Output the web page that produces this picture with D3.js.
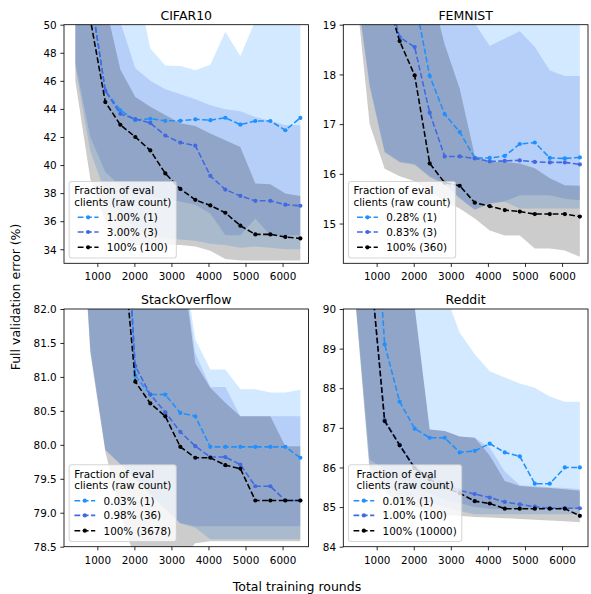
<!DOCTYPE html>
<html><head><meta charset="utf-8">
<script src="https://cdn.jsdelivr.net/npm/d3@7"></script>
<style>
body{margin:0;background:#fff}
svg text{font-family:"DejaVu Sans",sans-serif;fill:#000}
</style>
</head><body>
<svg id="c" width="591" height="594" xmlns="http://www.w3.org/2000/svg"></svg>
<script>
// ---------- shared ----------
const rounds = [405, 810, 1215, 1620, 2025, 2430, 2835, 3240, 3645, 4050, 4455, 4860, 5265, 5670, 6075, 6480];
const xTicks = [1000, 2000, 3000, 4000, 5000, 6000];
const legendTitle = ["Fraction of eval", "clients (raw count)"];

// ---------- CIFAR10 ----------
const cifarLabels = ["1.00% (1)", "3.00% (3)", "100% (100)"];
const cifarYTicks = [34, 36, 38, 40, 42, 44, 46, 48, 50];
const cifarMean1   = [58, 52.3, 45.3, 43.9, 43.2, 43.3, 43.15, 43.15, 43.26, 43.2, 43.37, 42.88, 43.14, 43.14, 42.48, 43.36];
const cifarMean3   = [58, 52.2, 45.3, 43.65, 43.28, 43.0, 42.1, 41.6, 41.38, 39.23, 38.25, 37.8, 37.45, 37.45, 37.18, 37.1];
const cifarMean100 = [57, 50.4, 44.49, 42.87, 42.0, 41.04, 39.4, 38.3, 37.52, 37.12, 36.6, 35.68, 35.06, 35.06, 34.88, 34.77];
const cifarHi1   = [60, 58, 56, 54, 53.4, 48.3, 47.1, 47.05, 46.75, 47.15, 49.5, 47.75, 50.3, 52, 52, 52];
const cifarLo1   = [47, 41, 38, 36.5, 35.5, 35.0, 34.8, 34.7, 34.6, 34.4, 34.3, 34.1, 34.2, 34.1, 34.0, 34.0];
const cifarHi3   = [58, 55, 52, 50.2, 46.9, 46.0, 45.4, 45.05, 44.68, 44.26, 43.97, 43.83, 43.43, 43.16, 42.83, 42.83];
const cifarLo3   = [47.3, 42, 39.5, 38.5, 38.0, 37.8, 37.6, 37.4, 37.18, 36.54, 35.0, 35.0, 36.2, 35.0, 35.0, 35.0];
const cifarHi100 = [58, 55, 51.5, 46.8, 44.85, 44.16, 43.56, 42.97, 42.79, 42.24, 41.76, 41.29, 38.68, 38.63, 37.97, 37.8];
const cifarLo100 = [46, 39, 36, 34.5, 34.3, 34.3, 34.3, 34.3, 34.2, 33.9, 33.3, 33.2, 33.2, 33.2, 33.2, 33.2];

// ---------- FEMNIST ----------
const femLabels = ["0.28% (1)", "0.83% (3)", "100% (360)"];
const femYTicks = [15, 16, 17, 18, 19];
const femMean1   = [21.5, 21, 20.5, 20, 19.53, 17.97, 17.2, 16.84, 16.32, 16.32, 16.36, 16.6, 16.63, 16.32, 16.31, 16.33];
const femMean3   = [21, 20.5, 19.89, 18.75, 18.55, 17.23, 16.35, 16.35, 16.31, 16.25, 16.26, 16.27, 16.24, 16.23, 16.23, 16.19];
const femMean100 = [22, 21, 19.68, 18.67, 17.98, 16.21, 15.82, 15.76, 15.42, 15.35, 15.27, 15.24, 15.19, 15.19, 15.19, 15.14];
const femHi1   = [20.5, 20.5, 20.5, 20.5, 20.5, 20.5, 20.5, 20.5, 20.5, 20.5, 20.5, 20.5, 20.5, 20.5, 20.5, 20.5];
const femLo1   = [20.0, 17.75, 16.43, 16.23, 16.18, 15.93, 15.78, 15.5, 15.27, 15.4, 15.44, 15.3, 15.3, 15.3, 15.3, 15.3];
const femHi3   = [20.5, 20.5, 20.5, 20.5, 20.5, 20.5, 20.5, 19.8, 19.03, 18.57, 18.72, 18.87, 18.55, 18.08, 17.97, 17.97];
const femLo3   = [20.0, 17.8, 16.45, 16.25, 16.2, 15.95, 15.8, 15.52, 15.28, 15.41, 15.45, 15.57, 15.57, 15.57, 15.5, 15.47];
const femHi100 = [20.5, 20.5, 20.5, 20.5, 20.5, 19.8, 18.6, 17.71, 16.37, 16.24, 16.24, 16.21, 16.11, 15.91, 15.77, 15.76];
const femLo100 = [19.97, 17.0, 16.1, 15.95, 15.85, 15.65, 15.45, 15.3, 15.1, 14.86, 14.76, 14.76, 14.5, 14.5, 14.46, 14.33];

// ---------- StackOverflow ----------
const soLabels = ["0.03% (1)", "0.98% (36)", "100% (3678)"];
const soYTicks = [78.5, 79.0, 79.5, 80.0, 80.5, 81.0, 81.5, 82.0];
const soMean1   = [90, 88, 87, 85.5, 81.02, 80.74, 80.74, 80.47, 80.42, 79.97, 79.97, 79.97, 79.97, 79.97, 79.97, 79.81];
const soMean3   = [89, 87, 86, 84.5, 81.16, 80.74, 80.48, 80.19, 79.98, 79.82, 79.82, 79.71, 79.39, 79.39, 79.18, 79.18];
const soMean100 = [88, 86, 85, 83.37, 80.93, 80.61, 80.42, 79.97, 79.81, 79.81, 79.7, 79.65, 79.18, 79.18, 79.18, 79.18];
const soHi1   = [86, 86, 86, 86, 86, 86, 86, 83.0, 81.55, 81.11, 81.11, 80.82, 80.82, 80.77, 80.77, 80.81];
const soLo1   = [85, 81.4, 79.92, 79.71, 79.49, 79.27, 79.05, 78.84, 78.78, 78.61, 78.61, 78.61, 78.61, 78.61, 78.61, 78.61];
const soHi3   = [86, 86, 86, 86, 86, 86, 86, 82.9, 81.35, 80.85, 80.85, 80.42, 80.42, 80.42, 80.42, 80.42];
const soLo3   = [85, 81.41, 79.93, 79.72, 79.5, 79.28, 79.06, 78.85, 78.8, 78.8, 78.8, 78.8, 78.8, 78.8, 78.8, 78.8];
const soHi100 = [86, 86, 86, 86, 86, 86, 86, 82.9, 81.2, 80.84, 80.62, 80.42, 80.42, 80.42, 79.98, 79.98];
const soLo100 = [85, 81.35, 79.9, 79.0, 78.3, 78.2, 78.2, 78.3, 78.55, 78.58, 78.58, 78.58, 78.58, 78.58, 78.58, 78.58];

// ---------- Reddit ----------
const redLabels = ["0.01% (1)", "1.00% (100)", "100% (10000)"];
const redYTicks = [84, 85, 86, 87, 88, 89, 90];
const redMean1   = [97, 95, 89.11, 87.66, 86.98, 86.75, 86.75, 86.38, 86.42, 86.6, 86.38, 86.28, 85.59, 85.59, 86.0, 86.0];
const redMean3   = [93, 91.3, 87.2, 86.58, 86.0, 85.77, 85.58, 85.42, 85.33, 85.24, 85.13, 85.07, 85.01, 84.97, 84.97, 84.97];
const redMean100 = [93, 91.3, 87.17, 86.56, 85.98, 85.7, 85.5, 85.35, 85.15, 85.09, 84.96, 84.96, 84.96, 84.96, 84.96, 84.78];
const redHi1   = [92, 92, 92, 92, 92, 92, 90.43, 89.4, 88.86, 88.43, 88.27, 88.12, 88.01, 87.79, 87.66, 87.66];
const redLo1   = [90.45, 86.0, 85.6, 85.3, 85.2, 85.1, 85.0, 84.9, 84.82, 84.82, 84.82, 84.82, 84.82, 84.82, 84.82, 84.82];
const redHi3   = [92, 92, 92, 92, 90.05, 86.96, 86.92, 86.78, 86.75, 86.5, 85.9, 85.55, 85.53, 85.5, 85.48, 85.45];
const redLo3   = [90.5, 86.2, 85.95, 85.7, 85.5, 85.35, 85.2, 85.1, 85.0, 84.96, 84.95, 84.95, 84.95, 84.95, 84.95, 84.95];
const redHi100 = [92, 92, 92, 92, 90.05, 86.96, 86.92, 86.78, 86.75, 86.3, 85.66, 85.53, 85.5, 85.48, 85.45, 85.41];
const redLo100 = [90.4, 85.9, 85.4, 85.1, 85.0, 84.9, 84.8, 84.78, 84.75, 84.74, 84.72, 84.7, 84.68, 84.66, 84.64, 84.62];

// ---------- layout / style ----------
const seriesColors = ["#1e90ff", "#4169e1", "#000000"];
const xDomain = [100, 6700];
const FS = 10.4, TFS = 12.5;
const LW = 1.56, DASH = "5.8,2.5";

const panels = [
  {title: "CIFAR10", left: 64, right: 308.5, top: 24.7, bottom: 263.3, ydom: [33, 50], yticks: cifarYTicks, fmt: d3.format("d"),
   means: [cifarMean1, cifarMean3, cifarMean100], lo: [cifarLo1, cifarLo3, cifarLo100], hi: [cifarHi1, cifarHi3, cifarHi100], labels: cifarLabels},
  {title: "FEMNIST", left: 343.3, right: 588, top: 24.7, bottom: 263.3, ydom: [14.2, 19], yticks: femYTicks, fmt: d3.format("d"),
   means: [femMean1, femMean3, femMean100], lo: [femLo1, femLo3, femLo100], hi: [femHi1, femHi3, femHi100], labels: femLabels},
  {title: "StackOverflow", left: 64, right: 308.5, top: 309, bottom: 546.7, ydom: [78.5, 82], yticks: soYTicks, fmt: d3.format(".1f"),
   means: [soMean1, soMean3, soMean100], lo: [soLo1, soLo3, soLo100], hi: [soHi1, soHi3, soHi100], labels: soLabels},
  {title: "Reddit", left: 343.3, right: 588, top: 309, bottom: 546.7, ydom: [84, 90], yticks: redYTicks, fmt: d3.format("d"),
   means: [redMean1, redMean3, redMean100], lo: [redLo1, redLo3, redLo100], hi: [redHi1, redHi3, redHi100], labels: redLabels}
];

const svg = d3.select("#c");
const defs = svg.append("defs");

panels.forEach((p, pi) => {
  const x = d3.scaleLinear().domain(xDomain).range([p.left, p.right]);
  const y = d3.scaleLinear().domain(p.ydom).range([p.bottom, p.top]);
  const g = svg.append("g");
  const cid = "clip" + pi;
  defs.append("clipPath").attr("id", cid).append("rect")
    .attr("x", p.left).attr("y", p.top).attr("width", p.right - p.left).attr("height", p.bottom - p.top);
  const plot = g.append("g").attr("clip-path", `url(#${cid})`);

  // bands
  p.means.forEach((m, s) => {
    const pts = rounds.map((r, i) => ({r, lo: p.lo[s][i], hi: p.hi[s][i]}));
    const area = d3.area().x(d => x(d.r)).y0(d => y(d.lo)).y1(d => y(d.hi));
    plot.append("path").attr("d", area(pts)).attr("fill", seriesColors[s]).attr("fill-opacity", 0.2).attr("stroke", "none");
  });
  // lines + markers
  p.means.forEach((m, s) => {
    const pts = rounds.map((r, i) => ({r, v: m[i]}));
    const line = d3.line().x(d => x(d.r)).y(d => y(d.v));
    plot.append("path").attr("d", line(pts)).attr("fill", "none")
      .attr("stroke", seriesColors[s]).attr("stroke-width", LW).attr("stroke-dasharray", DASH);
    plot.selectAll(null).data(pts).enter().append("circle")
      .attr("cx", d => x(d.r)).attr("cy", d => y(d.v)).attr("r", 2.1).attr("fill", seriesColors[s]);
  });

  // axes
  const xa = g.append("g").attr("transform", `translate(0,${p.bottom})`)
    .call(d3.axisBottom(x).tickValues(xTicks).tickFormat(d3.format("d")).tickSize(3.65).tickPadding(3.65));
  const ya = g.append("g").attr("transform", `translate(${p.left},0)`)
    .call(d3.axisLeft(y).tickValues(p.yticks).tickFormat(p.fmt).tickSize(3.65).tickPadding(3.65));
  [xa, ya].forEach(a => {
    a.select(".domain").remove();
    a.attr("font-family", null).attr("font-size", null);
    a.selectAll(".tick line").attr("stroke", "#000").attr("stroke-width", 0.83);
    a.selectAll(".tick text").attr("fill", "#000").style("font-size", FS + "px");
  });
  xa.selectAll(".tick text").attr("y", 17).attr("dy", "0");
  ya.selectAll(".tick text").attr("dy", "0.36em");

  // frame
  g.append("rect").attr("x", p.left).attr("y", p.top).attr("width", p.right - p.left).attr("height", p.bottom - p.top)
    .attr("fill", "none").attr("stroke", "#000").attr("stroke-width", 0.83);

  // title
  g.append("text").attr("x", (p.left + p.right) / 2).attr("y", p.top - 5.2)
    .attr("text-anchor", "middle").style("font-size", TFS + "px").text(p.title);

  // legend
  const lg = g.append("g");
  const B = p.bottom - 5.2;
  const box = lg.append("rect");
  const titleTexts = legendTitle.map((t, i) => lg.append("text").style("font-size", FS + "px")
    .attr("y", B - [67.5, 56.2][i] + 3.8).text(t));
  const titleW = d3.max(titleTexts, t => t.node().getComputedTextLength());
  const rowY = [B - 40.8, B - 26.1, B - 10.8];
  const entryTexts = p.labels.map((l, i) => lg.append("text").style("font-size", FS + "px")
    .attr("y", rowY[i] + 3.8).text(l));
  const entryTextW = d3.max(entryTexts, t => t.node().getComputedTextLength());
  const hl = 20.8, htp = 8.3, pad = 5;
  const entriesW = hl + htp + entryTextW;
  const contentW = Math.max(titleW, entriesW);
  const bx = p.left + 5.2, bw = contentW + 2 * pad, bh = 76.7;
  box.attr("x", bx).attr("y", B - bh).attr("width", bw).attr("height", bh).attr("rx", 2.5)
    .attr("fill", "#fff").attr("fill-opacity", 0.8).attr("stroke", "#cccccc").attr("stroke-opacity", 0.8).attr("stroke-width", 1.04);
  const tx = bx + pad + (contentW - titleW) / 2;
  titleTexts.forEach(t => t.attr("x", tx));
  const ex = bx + pad + (contentW - entriesW) / 2;
  p.labels.forEach((l, i) => {
    lg.append("line").attr("x1", ex).attr("x2", ex + hl).attr("y1", rowY[i]).attr("y2", rowY[i])
      .attr("stroke", seriesColors[i]).attr("stroke-width", LW).attr("stroke-dasharray", DASH);
    lg.append("circle").attr("cx", ex + hl / 2).attr("cy", rowY[i]).attr("r", 2.1).attr("fill", seriesColors[i]);
    entryTexts[i].attr("x", ex + hl + htp);
  });
});

// figure labels
svg.append("text").attr("x", 297).attr("y", 591).attr("text-anchor", "middle")
  .style("font-size", TFS + "px").text("Total training rounds");
svg.append("text").attr("transform", "translate(16,297) rotate(-90)").attr("text-anchor", "middle").attr("dy", "0.35em")
  .style("font-size", TFS + "px").text("Full validation error (%)");
</script>
</body></html>
